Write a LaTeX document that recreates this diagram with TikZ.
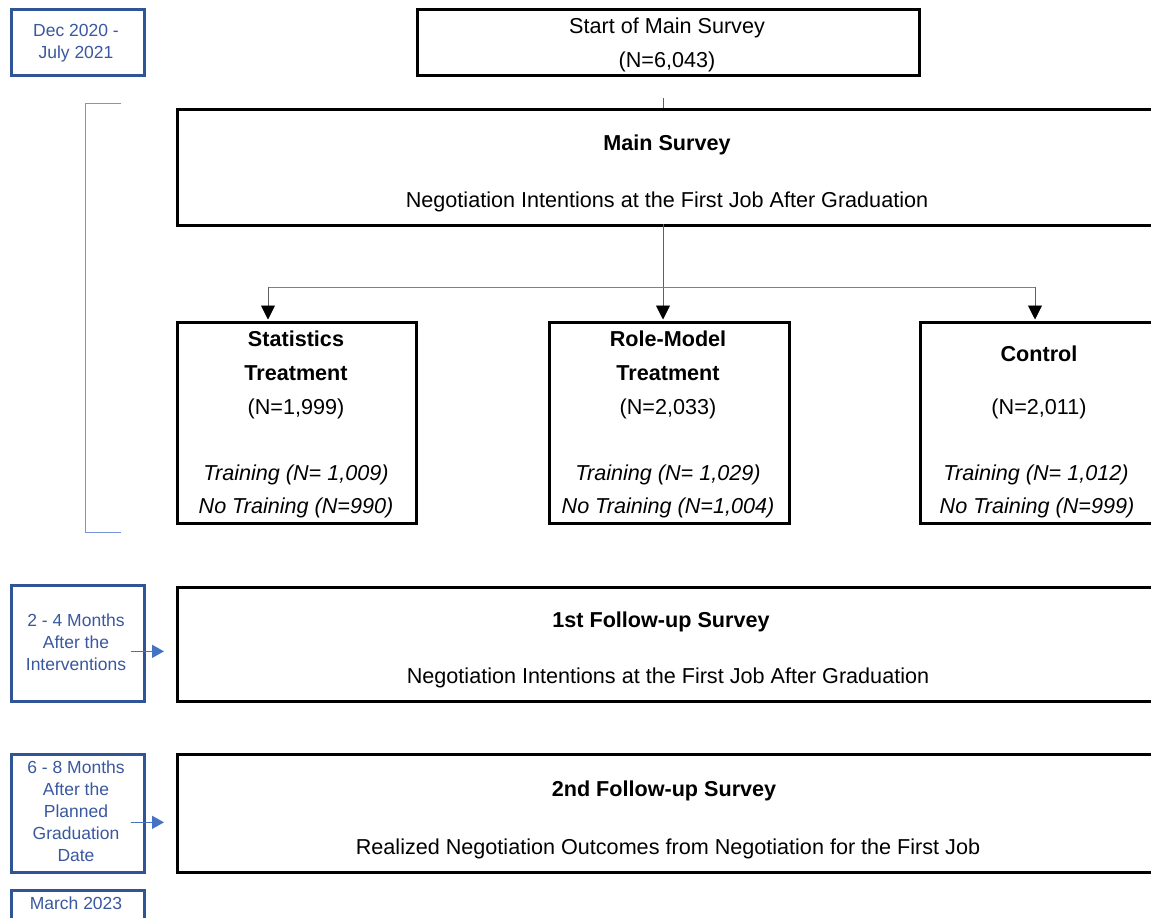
\documentclass[tikz,border=0pt]{standalone}
\usepackage{fontspec}
\setmainfont{Liberation Sans}
\usetikzlibrary{arrows.meta,calc}
\definecolor{dblue}{RGB}{47,85,151}
\definecolor{tblue}{RGB}{58,88,160}
\definecolor{lblue}{RGB}{68,114,196}
\definecolor{brkblue}{RGB}{120,150,215}
\definecolor{lgray}{RGB}{95,95,95}
\tikzset{
  bbox/.style={draw=black, line width=2.9pt, inner sep=0pt, anchor=north west},
  dbox/.style={draw=dblue, line width=2.7pt, inner sep=0pt, anchor=north west, minimum width=133pt},
  txt/.style={font=\fontsize{21.6}{26}\selectfont, inner sep=0pt, anchor=base},
  btxt/.style={txt, font=\fontsize{21.6}{26}\selectfont\bfseries},
  itxt/.style={txt, font=\fontsize{21.6}{26}\selectfont\itshape},
  dtxt/.style={font=\fontsize{17.5}{21}\selectfont, text=tblue, inner sep=0pt, anchor=base},
  gl/.style={draw=lgray, line width=0.9pt},
  arr/.style={gl, -{Triangle[width=14pt,length=14pt,color=black]}, shorten >=1.5pt},
  barr/.style={draw=lblue, line width=1.4pt, -{Triangle[width=13pt,length=12pt]}},
  brk/.style={draw=brkblue, line width=1pt}
}
\begin{document}
\begin{tikzpicture}[x=1pt,y=-1pt]
\clip (0,0) rectangle (1151,918);
\fill[white] (0,0) rectangle (1151,918);

% date boxes
\node[dbox, minimum height=66pt] (d1) at (10,8) {};
\node[dbox, minimum height=116pt] (d2) at (10,584) {};
\node[dbox, minimum height=118pt] (d3) at (10,753) {};
\node[dbox, minimum height=40pt] (d4) at (10,889) {};

\node[dtxt] (d1a) at (76,36) {Dec 2020 -};
\node[dtxt] (d1b) at (76,58) {July 2021};
\node[dtxt] (d2a) at (76,626) {2 - 4 Months};
\node[dtxt] (d2b) at (76,648) {After the};
\node[dtxt] (d2c) at (76,670) {Interventions};
\node[dtxt] (d3a) at (76,773) {6 - 8 Months};
\node[dtxt] (d3b) at (76,795) {After the};
\node[dtxt] (d3c) at (76,817) {Planned};
\node[dtxt] (d3d) at (76,839) {Graduation};
\node[dtxt] (d3e) at (76,861) {Date};
\node[dtxt] (d4a) at (76,909) {March 2023};

% main boxes
\node[bbox, minimum width=502pt, minimum height=66pt] (start) at (416,8) {};
\node[bbox, minimum width=990pt, minimum height=116pt] (main) at (176,108) {};
\node[bbox, minimum width=239pt, minimum height=201pt] (stat) at (176,321) {};
\node[bbox, minimum width=240pt, minimum height=201pt] (role) at (548,321) {};
\node[bbox, minimum width=240pt, minimum height=201pt] (ctrl) at (919,321) {};
\node[bbox, minimum width=990pt, minimum height=114pt] (fu1) at (176,586) {};
\node[bbox, minimum width=990pt, minimum height=118pt] (fu2) at (176,753) {};

% texts
\node[txt] (s1) at (667,33) {Start of Main Survey};
\node[txt] (s2) at (667,67) {(N=6,043)};
\node[btxt] (m1) at (667,150) {Main Survey};
\node[txt] (m2) at (667,207) {Negotiation Intentions at the First Job After Graduation};

\node[btxt] (st1) at (296,346) {Statistics};
\node[btxt] (st2) at (296,380) {Treatment};
\node[txt] (st3) at (296,414) {(N=1,999)};
\node[itxt] (st4) at (296,480) {Training (N= 1,009)};
\node[itxt] (st5) at (296,513) {No Training (N=990)};

\node[btxt] (r1) at (668,346) {Role-Model};
\node[btxt] (r2) at (668,380) {Treatment};
\node[txt] (r3) at (668,414) {(N=2,033)};
\node[itxt] (r4) at (668,480) {Training (N= 1,029)};
\node[itxt] (r5) at (668,513) {No Training (N=1,004)};

\node[btxt] (c1) at (1039,361) {Control};
\node[txt] (c3) at (1039,414) {(N=2,011)};
\node[itxt] (c4) at (1036,480) {Training (N= 1,012)};
\node[itxt] (c5) at (1037,513) {No Training (N=999)};

\node[btxt] (f1a) at (661,627) {1st Follow-up Survey};
\node[txt] (f1b) at (668,683) {Negotiation Intentions at the First Job After Graduation};
\node[btxt] (f2a) at (664,796) {2nd Follow-up Survey};
\node[txt] (f2b) at (668,854) {Realized Negotiation Outcomes from Negotiation for the First Job};

% connectors
\coordinate (tk) at (663,98);
\draw[gl] (tk) -- (tk |- main.north);
\coordinate (ms) at (663,224);
\coordinate (split) at (663,287);
\draw[arr] (ms) -- (ms |- role.north);
\draw[gl, draw=gray] (split) -- (268,287);
\draw[gl, draw=gray] (split) -- (1035,287);
\draw[arr] (268,287) -- ([xshift=92pt]stat.north west);
\draw[arr] (1035,287) -- ([xshift=116pt]ctrl.north west);

\coordinate (a1) at ([xshift=-15pt,yshift=-8pt]d2.east);
\draw[barr] (a1) -- ([xshift=-12pt]a1 -| fu1.west);
\coordinate (a2) at ([xshift=-15pt,yshift=-9pt]d3.east);
\draw[barr] (a2) -- ([xshift=-12pt]a2 -| fu2.west);

% bracket
\draw[brk] (121,103) -- (85,103) -- (85,532) -- (121,532);
\end{tikzpicture}
\end{document}
